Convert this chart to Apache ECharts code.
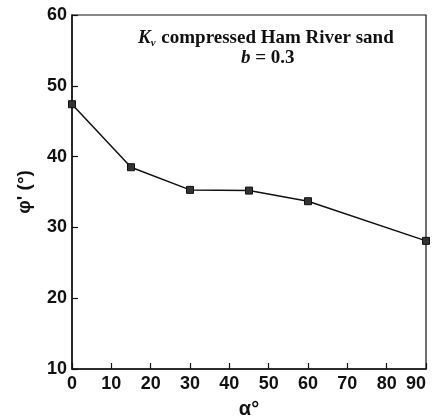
<!DOCTYPE html>
<html>
<head>
<meta charset="utf-8">
<script src="https://cdn.jsdelivr.net/npm/echarts@6/dist/echarts.min.js"></script>
<style>
  html, body { margin: 0; padding: 0; background: #fff; }
  #main { width: 432px; height: 417px; }
</style>
</head>
<body>
<div id="main"></div>
<script>
// alpha (deg) vs phi' (deg)
var alpha = [0, 15, 30, 45, 60, 90];
var phi = [47.4, 38.5, 35.3, 35.2, 33.7, 28.1];
var xTicks = [0, 10, 20, 30, 40, 50, 60, 70, 80, 90];
var yTicks = [10, 20, 30, 40, 50, 60];

var chart = echarts.init(document.getElementById("main"));

var labelFont = {
  color: "#111",
  fontFamily: "Liberation Sans",
  fontWeight: "bold",
  fontSize: 18
};

chart.setOption({
  animation: false,
  grid: {
    left: 72,
    right: 6,
    top: 15,
    bottom: 48,
    outerBoundsMode: "none",
    show: true,
    borderColor: "#111",
    borderWidth: 1.2
  },
  xAxis: {
    type: "value",
    min: xTicks[0],
    max: xTicks[xTicks.length - 1],
    interval: 10,
    name: "α°",
    nameLocation: "middle",
    nameGap: 30,
    nameTextStyle: { color: "#111", fontFamily: "Liberation Sans", fontWeight: "bold", fontSize: 20 },
    axisLine: { lineStyle: { color: "#111", width: 1.5 } },
    axisTick: { inside: true, length: 6, lineStyle: { color: "#111", width: 1.2 } },
    axisLabel: Object.assign({ margin: 6, alignMaxLabel: "right" }, labelFont),
    splitLine: { show: false }
  },
  yAxis: {
    type: "value",
    min: yTicks[0],
    max: yTicks[yTicks.length - 1],
    interval: 10,
    name: "φ' (°)",
    nameLocation: "middle",
    nameGap: 38,
    nameRotate: 90,
    nameTextStyle: { color: "#111", fontFamily: "Liberation Sans", fontWeight: "bold", fontSize: 19 },
    axisLine: { lineStyle: { color: "#111", width: 1.5 } },
    axisTick: { inside: true, length: 6, lineStyle: { color: "#111", width: 1.2 } },
    axisLabel: Object.assign({ margin: 5 }, labelFont),
    splitLine: { show: false }
  },
  graphic: [
    {
      type: "text",
      left: 138,
      top: 29,
      style: {
        text: "{k|K}{s|v} compressed Ham River sand",
        fill: "#111",
        font: "bold 19px 'Liberation Serif'",
        rich: {
          k: { fontStyle: "italic", fontWeight: "bold", fontSize: 19, fontFamily: "Liberation Serif" },
          s: { fontStyle: "italic", fontWeight: "bold", fontSize: 11, fontFamily: "Liberation Serif", verticalAlign: "bottom", padding: [9, 1, 0, 0] }
        }
      }
    },
    {
      type: "text",
      left: 241,
      top: 49,
      style: {
        text: "{b|b} = 0.3",
        fill: "#111",
        font: "bold 19px 'Liberation Serif'",
        rich: {
          b: { fontStyle: "italic", fontWeight: "bold", fontSize: 19, fontFamily: "Liberation Serif" }
        }
      }
    }
  ],
  series: [
    {
      type: "line",
      data: alpha.map(function (a, i) { return [a, phi[i]]; }),
      symbol: "rect",
      symbolSize: 7,
      lineStyle: { color: "#111", width: 1.5 },
      itemStyle: { color: "#333", borderColor: "#111", borderWidth: 1 }
    }
  ]
});
</script>
</body>
</html>
